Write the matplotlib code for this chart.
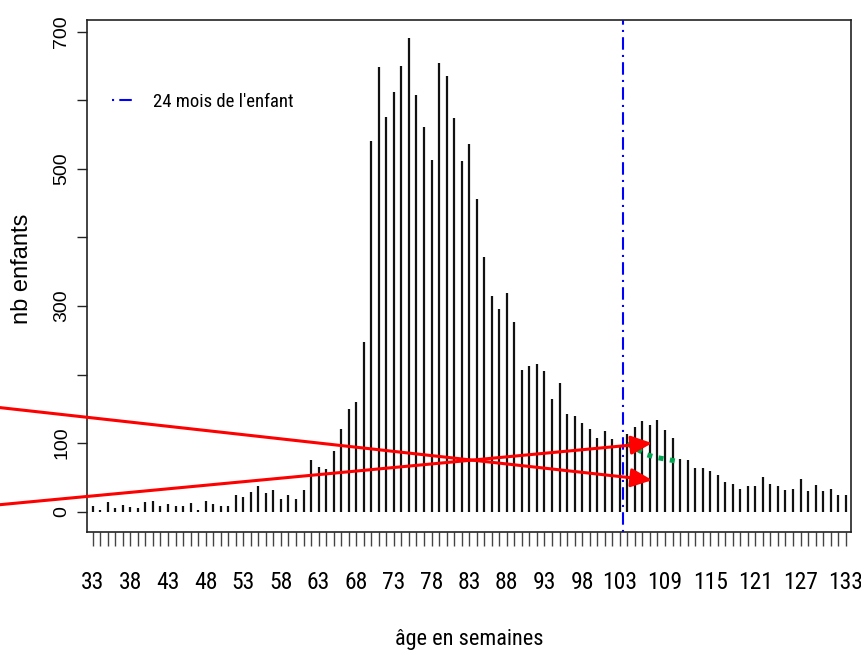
from matplotlib import pyplot as plt
from matplotlib import font_manager
import numpy as np

# weekly counts, weeks 33 .. 133
weeks = list(range(33, 134))
counts = [8, 3, 14, 5, 10, 7, 5, 14, 16, 8,
          11, 9, 8, 13, 3, 16, 11, 8, 8, 24,
          22, 28, 37, 27, 32, 18, 25, 19, 31, 76,
          65, 62, 89, 121, 150, 160, 247, 541, 648, 575,
          612, 650, 691, 607, 561, 513, 655, 635, 574, 512,
          536, 456, 371, 314, 295, 319, 276, 206, 213, 216,
          205, 165, 187, 142, 140, 130, 120, 107, 118, 106,
          96, 114, 124, 132, 127, 133, 119, 108, 77, 75,
          64, 64, 60, 53, 43, 40, 33, 38, 38, 51,
          41, 38, 31, 33, 48, 30, 39, 30, 33, 25,
          25]

x_labels = [33, 38, 43, 48, 53, 58, 63, 68, 73, 78, 83, 88, 93, 98, 103,
            109, 115, 121, 127, 133]
y_ticks = [0, 100, 200, 300, 400, 500, 600, 700]
y_labels = ['0', '100', '', '300', '', '500', '', '700']

month24 = 103.45  # 24 mois

# red arrows (start -> tip)
arrow_starts = [(20.5, 152), (20.5, 10)]
arrow_tips = [(107.3, 46), (107.3, 100)]

# green dotted trend
green_x = [104.0, 105.3, 106.6, 107.9, 109.4, 110.8]
green_y = [99, 91, 83, 79, 76, 73]

# pick a narrow face if one is installed
installed = {f.name for f in font_manager.fontManager.ttflist}
narrow = [n for n in ['Liberation Sans Narrow', 'Roboto Condensed', 'Open Sans Condensed',
                      'DejaVu Sans Condensed'] if n in installed]
NARROW = narrow[:1] + ['Liberation Sans', 'DejaVu Sans']
REGULAR = ['Liberation Sans', 'DejaVu Sans']
tick_size = 17 if narrow else 13

fig = plt.figure(figsize=(8.62, 6.61), dpi=100)
ax = fig.add_axes([0.1009, 0.1952, 0.8863, 0.7745])

ax.vlines(weeks, 0, counts, color='#111111', linewidth=1.6)

ax.axvline(month24, color='#0000ff', linewidth=1.5,
           linestyle=(0, (1, 2.5, 6, 2.5)), label="24 mois de l'enfant")

ax.plot(green_x, green_y, color='#00a550', linewidth=3.6, zorder=4,
        linestyle=(0, (1, 1.3)), dash_capstyle='butt')

for start, tip in zip(arrow_starts, arrow_tips):
    ax.annotate('', xy=tip, xytext=start, annotation_clip=False,
                arrowprops=dict(arrowstyle='-|>,head_length=0.85,head_width=0.38',
                                mutation_scale=15, color='#ff0000', lw=2.2,
                                shrinkA=0, shrinkB=0), zorder=5)

ax.set_xlim(32.24, 133.7)
ax.set_ylim(-29.6, 717)

ax.set_xticks(weeks)
ax.set_xticklabels([str(w) if w in x_labels else '' for w in weeks],
                   family=NARROW, fontsize=tick_size)
ax.tick_params(axis='x', direction='out', length=10, width=1, color='#444444', pad=18)

ax.set_yticks(y_ticks)
ax.set_yticklabels(y_labels, family=REGULAR, fontsize=14, rotation=90, va='center')
ax.tick_params(axis='y', direction='out', length=7.2, width=1, color='#222222', pad=5)

for sp in ax.spines.values():
    sp.set_linewidth(1.2)
    sp.set_color('#222222')

ax.set_xlabel('âge en semaines', family=NARROW, fontsize=16 if narrow else 13, va='top')
ax.xaxis.set_label_coords(0.5, -0.19)
ax.set_ylabel('nb enfants', family=REGULAR, fontsize=17)
ax.yaxis.set_label_coords(-0.071, 0.515)

ax.legend(loc='center left', bbox_to_anchor=(0.033, 0.84), frameon=False,
          borderpad=0, borderaxespad=0, handlelength=1.2, handletextpad=1.0,
          prop={'family': NARROW, 'size': 13.5 if narrow else 12})

plt.savefig('out.png', dpi=100)
